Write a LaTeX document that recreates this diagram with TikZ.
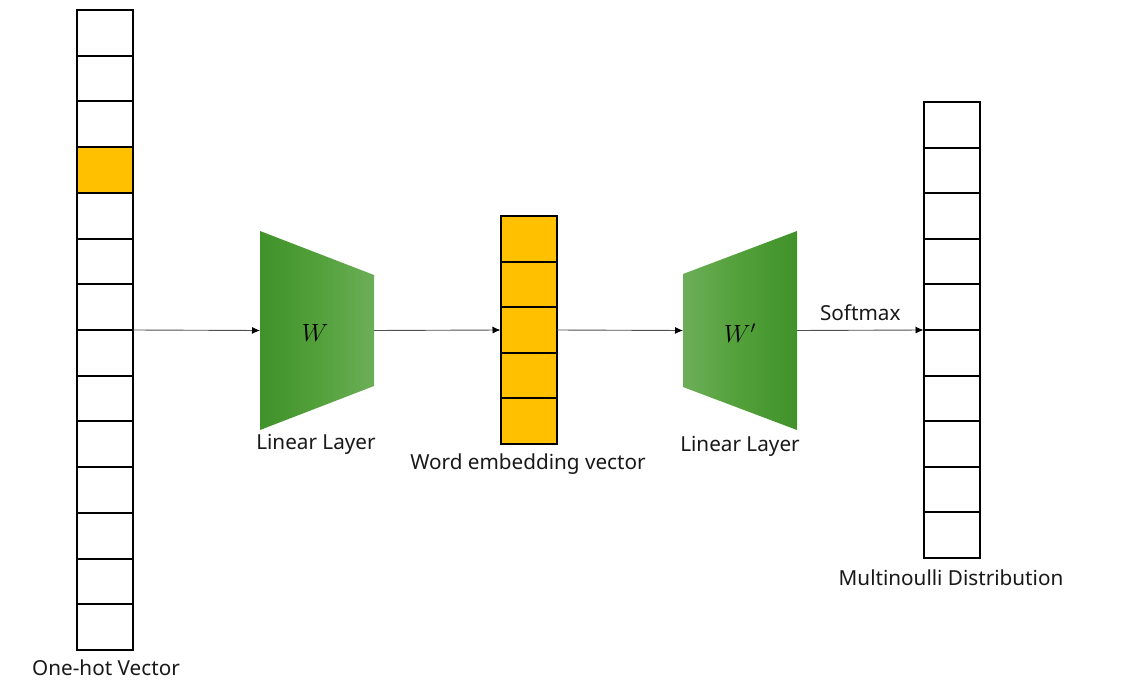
\documentclass[tikz,border=0pt]{standalone}
\usepackage{fontspec}
\setmainfont{Noto Sans}
\usetikzlibrary{arrows.meta}
\definecolor{gold}{RGB}{255,192,0}
\definecolor{gdark}{RGB}{64,146,42}
\definecolor{gmid}{RGB}{82,160,58}
\definecolor{glight}{RGB}{108,174,88}
\definecolor{conn}{RGB}{80,80,80}
\tikzset{
  cell/.style={draw=black, line width=2pt, minimum width=56pt, inner sep=0pt, outer sep=0pt},
  hotcell/.style={cell, minimum height=45.714pt},
  pcell/.style={cell, minimum height=45.6pt},
  lbl/.style={font=\fontsize{20.7}{24}\selectfont, inner sep=0pt, text=black!90},
  conn/.style={draw=conn, line width=0.9pt, -{Latex[length=8pt,width=7pt,color=black]}},
  wlbl/.style={font=\fontsize{26}{30}\selectfont, inner sep=0pt}
}
\begin{document}
\begin{tikzpicture}[x=1pt,y=-1pt]
\useasboundingbox[fill=white] (0,0) rectangle (1127,693);

% one-hot vector
\foreach \i in {0,...,13}{
  \node[hotcell] (oh\i) at (105, 10+45.714*\i+22.857) {};
}
\node[hotcell, fill=gold] (oh3f) at (oh3) {};
\node[lbl] (ohl) at (106,668) {One-hot Vector};

% trapezoid 1
\shade[left color=gdark, right color=glight, middle color=gmid] (260,231) -- (374,275) -- (374,386) -- (260,430) -- cycle;
\coordinate (t1w) at (260,330.5);
\coordinate (t1e) at (374,330.5);
\node[wlbl] (w1) at (315,333) {$W$};
\node[lbl] (l1) at (316,444) {Linear Layer};

% embedding vector
\foreach \i in {0,...,4}{
  \node[pcell, fill=gold] (em\i) at (528.5, 216+45.6*\i+22.8) {};
}
\node[lbl] (eml) at (528,464) {Word embedding vector};

% trapezoid 2
\shade[left color=glight, right color=gdark, middle color=gmid] (683,274) -- (797,231) -- (797,430) -- (683,387) -- cycle;
\coordinate (t2w) at (683,330.5);
\coordinate (t2e) at (797,330.5);
\node[wlbl] (w2) at (740,333) {$W'$};
\node[lbl] (l2) at (740,446) {Linear Layer};

% output distribution
\foreach \i in {0,...,9}{
  \node[pcell] (md\i) at (951.5, 102+45.6*\i+22.8) {};
}
\node[lbl] (mdl) at (951,578) {Multinoulli Distribution};

% connectors
\draw[conn] (oh6.south east) -- (t1w);
\draw[conn] (t1e) -- (em2.west);
\draw[conn] (em2.east) -- (t2w);
\draw[conn] (t2e) -- node[lbl, above=9pt, pos=0.5] (sm) {Softmax} (md4.south west);
\end{tikzpicture}
\end{document}
